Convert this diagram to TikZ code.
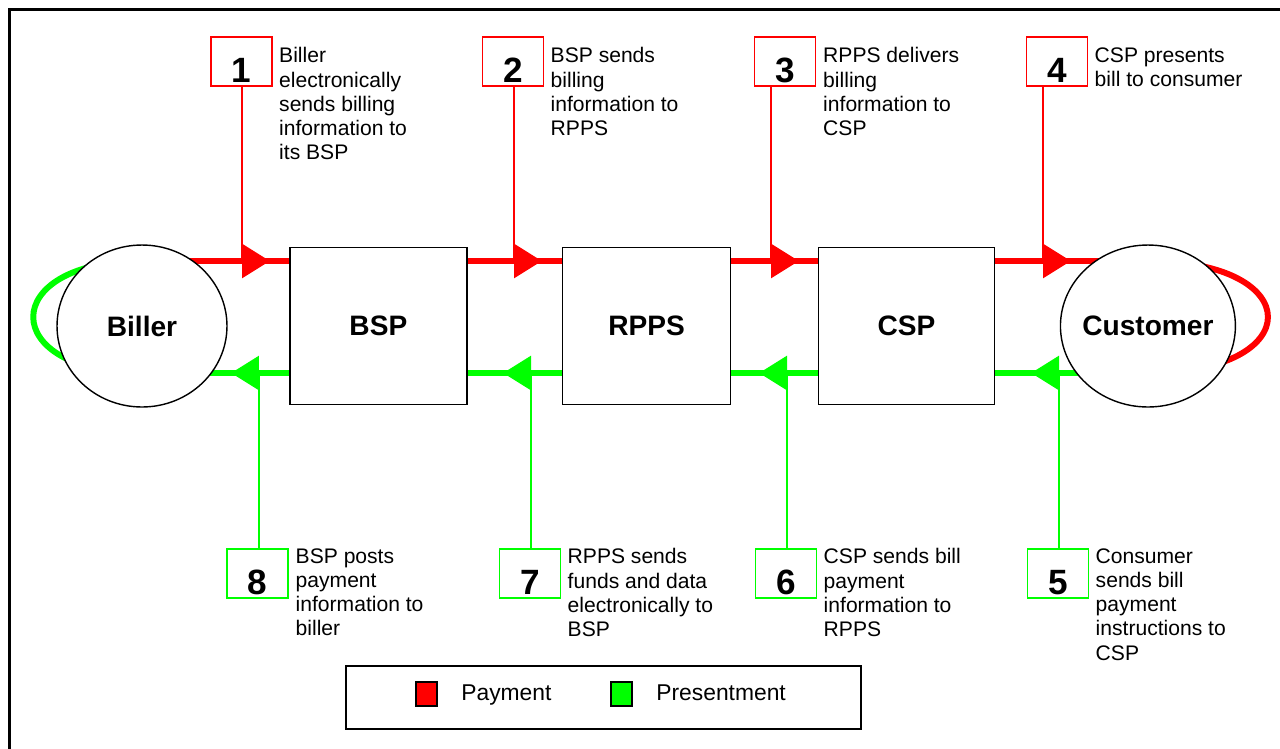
\documentclass[tikz,border=0pt]{standalone}
\usepackage{fontspec}
\setmainfont{Liberation Sans}
\usetikzlibrary{arrows.meta, positioning, shapes.geometric, backgrounds}
\def\PaymentColor{red}
\def\PresentmentColor{green}

\begin{document}
\begin{tikzpicture} [
    x=0.02cm, y=-0.02cm,
   party/.style = {draw, ellipse, fill=white, line width=0.8pt, inner ysep=0pt, inner xsep=-0.5cm,
                   minimum height=3.24cm, font=\bfseries\fontsize{16}{19}\selectfont},
      sp/.style = {draw, fill=white, line width=0.8pt, minimum height=3.14cm,
                   font=\bfseries\fontsize{16}{19}\selectfont},
     num/.style = {draw, fill=white, line width=1pt, minimum width=1.22cm, minimum height=0.98cm,
                   inner sep=0pt, text height=0.84cm, text depth=0pt,
                   font=\bfseries\fontsize{20}{24}\selectfont},
    desc/.style = {inner sep=0pt, align=left, font=\fontsize{12}{13.8}\selectfont},
     pay/.style = {draw=\PaymentColor, line width=3.4pt},
    pres/.style = {draw=\PresentmentColor, line width=3.4pt},
 flowtip/.style = {-{Triangle[length=0.56cm, width=0.66cm]}},
    lead/.style = {line width=0.75pt},
     key/.style = {draw, line width=1pt, inner sep=0pt, minimum width=0.42cm, minimum height=0.48cm},
    ]

  \useasboundingbox (0,0) rectangle (1280,748);
  \clip (0,0) rectangle (1280,748);
  \draw[line width=1.5pt] (9.5,760) |- (1290,9.5);

  % Nodes and Positions
  % MIDDLE ROW
  \node[party, minimum width=3.4cm] (biller) at (142,326) {Biller};
  \node[sp, minimum width=3.54cm] (bsp)  [right=1.23cm of biller] {BSP};
  \node[sp, minimum width=3.36cm] (rpps) [right=1.89cm of bsp]    {RPPS};
  \node[sp, minimum width=3.52cm] (csp)  [right=1.73cm of rpps]   {CSP};
  \node[party, minimum width=3.5cm] (customer) [right=1.29cm of csp] {Customer};

  % junctions on the flow lines
  \coordinate (j1) at (242,261);  \coordinate (t1) at (270,261);
  \coordinate (j2) at (514,261);  \coordinate (t2) at (542,261);
  \coordinate (j3) at (771,261);  \coordinate (t3) at (799,261);
  \coordinate (j4) at (1043,261); \coordinate (t4) at (1071,261);
  \coordinate (j5) at (1059,373); \coordinate (t5) at (1031,373);
  \coordinate (j6) at (787,373);  \coordinate (t6) at (759,373);
  \coordinate (j7) at (531,373);  \coordinate (t7) at (503,373);
  \coordinate (j8) at (259,373);  \coordinate (t8) at (231,373);

  % TOP ROW (payment steps)
  \node[num, draw=\PaymentColor] (n1) at (241.5,61.5) {1};
  \node[num, draw=\PaymentColor] (n2) at (513,61.5)   {2};
  \node[num, draw=\PaymentColor] (n3) at (785,61.5)   {3};
  \node[num, draw=\PaymentColor] (n4) at (1057,61.5)  {4};

  \node[desc, below right=0.22cm and 0.12cm of n1.north east] (d1) {Biller\\electronically\\sends billing\\information to\\its BSP};
  \node[desc, below right=0.22cm and 0.12cm of n2.north east] (d2) {BSP sends\\billing\\information to\\RPPS};
  \node[desc, below right=0.22cm and 0.13cm of n3.north east] (d3) {RPPS delivers\\billing\\information to\\CSP};
  \node[desc, below right=0.22cm and 0.12cm of n4.north east] (d4) {CSP presents\\bill to consumer};

  % BOTTOM ROW (presentment steps)
  \node[num, draw=\PresentmentColor] (n8) at (257.5,573.5) {8};
  \node[num, draw=\PresentmentColor] (n7) at (530,573.5)   {7};
  \node[num, draw=\PresentmentColor] (n6) at (786,573.5)   {6};
  \node[num, draw=\PresentmentColor] (n5) at (1058,573.5)  {5};

  \node[desc, below right=0cm and 0.13cm of n8.north east] (d8) {BSP posts\\payment\\information to\\biller};
  \node[desc, below right=0cm and 0.12cm of n7.north east] (d7) {RPPS sends\\funds and data\\electronically to\\BSP};
  \node[desc, below right=0cm and 0.12cm of n6.north east] (d6) {CSP sends bill\\payment\\information to\\RPPS};
  \node[desc, below right=0cm and 0.12cm of n5.north east] (d5) {Consumer\\sends bill\\payment\\instructions to\\CSP};

  % Edges
  \begin{scope}[on background layer]
    \draw[pay]  (biller |- j1) -- (customer |- j1)
                .. controls +(160,0) and +(160,0) .. (customer |- j5);
    \draw[pres] (customer |- j5) -- (biller |- j8)
                .. controls +(-145,0) and +(-145,0) .. (biller |- j1);
  \end{scope}

  \draw[lead, draw=\PaymentColor] (n1.south -| j1) -- (j1);
  \draw[lead, draw=\PaymentColor] (n2.south -| j2) -- (j2);
  \draw[lead, draw=\PaymentColor] (n3.south -| j3) -- (j3);
  \draw[lead, draw=\PaymentColor] (n4.south -| j4) -- (j4);
  \draw[lead, draw=\PresentmentColor] (n5.north -| j5) -- (j5);
  \draw[lead, draw=\PresentmentColor] (n6.north -| j6) -- (j6);
  \draw[lead, draw=\PresentmentColor] (n7.north -| j7) -- (j7);
  \draw[lead, draw=\PresentmentColor] (n8.north -| j8) -- (j8);

  \draw[pay, flowtip] (j1) -- (t1);
  \draw[pay, flowtip] (j2) -- (t2);
  \draw[pay, flowtip] (j3) -- (t3);
  \draw[pay, flowtip] (j4) -- (t4);
  \draw[pres, flowtip] (j5) -- (t5);
  \draw[pres, flowtip] (j6) -- (t6);
  \draw[pres, flowtip] (j7) -- (t7);
  \draw[pres, flowtip] (j8) -- (t8);

  % Legend
  \node[draw, line width=1pt, minimum width=10.3cm, minimum height=1.26cm] (legend) at (603.5,697.5) {};
  \node[key, fill=\PaymentColor] (paykey) at (426.5,694) {};
  \node[key, fill=\PresentmentColor] (preskey) at (621.5,694) {};
  \node[inner sep=0pt, anchor=base west, font=\fontsize{13}{15}\selectfont] (paytext) at (461,700) {Payment};
  \node[inner sep=0pt, anchor=base west, font=\fontsize{13}{15}\selectfont] (prestext) at (656,700) {Presentment};

\end{tikzpicture}
\end{document}
